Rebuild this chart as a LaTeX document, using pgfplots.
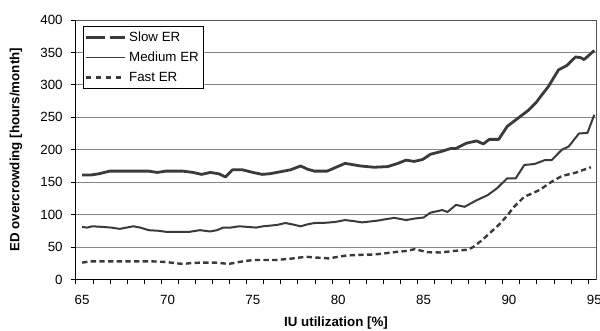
\documentclass[border=0pt]{standalone}
\usepackage{pgfplots}
\pgfplotsset{compat=1.18}
\usepackage{fontspec}
\setmainfont{Liberation Sans}
\definecolor{linecol}{HTML}{3A3A3A}
\definecolor{gridcol}{HTML}{858585}
\definecolor{framecol}{HTML}{555555}
\begin{document}
\begin{tikzpicture}[x=1pt,y=1pt]
\path[use as bounding box] (0,0) rectangle (450,247.5);
\begin{axis}[
  at={(57pt,37.9pt)}, anchor=south west, scale only axis,
  width=390pt, height=194.6pt,
  xmin=64.64, xmax=95.1, ymin=0, ymax=400,
  font=\fontsize{10}{12}\selectfont,
  /pgf/number format/assume math mode=true,
  xtick={64.64,65.64,...,94.7},
  xticklabels={},
  extra x ticks={65,70,75,80,85,90,95},
  extra x tick style={major tick length=0pt, xticklabel style={yshift=-8.5pt}},
  ytick={0,50,...,400},
  xtick pos=lower, ytick pos=left,
  tick align=outside,
  major tick length=3.5pt,
  tick style={black, line width=0.75pt},
  ymajorgrids,
  grid style={gridcol, line width=0.75pt},
  axis line style={framecol, line width=0.75pt},
  yticklabel style={xshift=-3pt},
  ylabel={\bfseries ED overcrowding [hours/month]},
  xlabel={\bfseries IU utilization [\%]},
  ylabel style={at={(axis description cs:-0.1154,0.5)}, anchor=center},
  xlabel style={at={(axis description cs:0.5,0)}, anchor=center, yshift=-32.6pt},
  legend style={at={(axis description cs:0,1)}, anchor=north west, xshift=5pt, yshift=-4.5pt,
    draw=black, line width=0.75pt, fill=white, inner sep=1pt,
    row sep=0.5pt,
    nodes={inner sep=2.5pt, text height=7.5pt, text depth=2pt, font=\fontsize{10}{12}\selectfont}},
  legend cell align=left,
  clip=false,
]
\addplot[linecol, line width=2.1pt, line join=round,
  legend image code/.code={\draw[linecol, line width=2pt, dash pattern=on 14pt off 4pt] (0pt,0pt) -- (29pt,0pt);}]
coordinates {
(65,161) (65.5,161) (66,163) (66.6,167) (67.5,167) (68.5,167) (68.9,167) (69.4,165) (69.9,167) (70.9,167) (71.5,165) (72.0,162) (72.5,165) (73.0,163) (73.4,158) (73.8,169) (74.4,169) (75.0,165) (75.55,162) (76.0,163) (76.6,166) (77.2,169) (77.8,175) (78.2,170) (78.6,167) (79.35,167) (80.4,179) (81.3,175) (82.1,173) (82.9,174) (83.5,179) (83.97,184) (84.45,182) (84.95,185) (85.4,193) (86.0,197) (86.6,202) (86.9,202) (87.5,210) (88.1,213.6) (88.5,209) (88.85,216) (89.4,216) (89.9,236) (90.3,244) (90.7,252) (91.1,260) (91.6,273) (92.0,287) (92.3,297) (92.6,310) (92.9,323) (93.4,330) (93.9,343) (94.2,342) (94.4,339) (94.7,346) (95.0,353)
};
\addlegendentry{Slow ER}
\addplot[linecol, line width=1.5pt, line join=round,
  legend image code/.code={\draw[linecol, line width=1.3pt] (0pt,0pt) -- (29pt,0pt);}]
coordinates {
(65,81) (65.3,80) (65.6,82) (66.2,81) (66.7,80) (67.2,78) (67.6,80) (68.0,82) (68.4,80) (68.9,76) (69.5,75) (69.9,73.5) (70.6,73.5) (71.3,73.5) (71.9,76) (72.5,74) (72.9,76) (73.25,80) (73.7,80) (74.2,82) (74.7,81) (75.2,80) (75.6,82) (76.4,84) (76.9,87) (77.3,85) (77.8,82) (78.2,85) (78.6,87) (79.35,87.5) (79.9,89) (80.4,91.6) (80.9,90) (81.4,88) (82.3,90.7) (82.8,93) (83.3,95) (83.97,91.6) (84.5,94) (85.0,95.5) (85.4,103) (86.1,107) (86.4,104) (86.9,115) (87.4,112) (88.1,122) (88.75,130) (89.3,140.5) (89.9,156) (90.4,156) (90.9,176.5) (91.5,178) (92.1,184) (92.5,184) (93.1,200) (93.5,205) (94.1,225) (94.6,226) (95.0,254)
};
\addlegendentry{Medium ER}
\addplot[linecol, line width=1.8pt, dash pattern=on 4pt off 2.5pt,
  legend image code/.code={\draw[linecol, line width=1.8pt, dash pattern=on 4pt off 3.5pt] (0pt,0pt) -- (29pt,0pt);}]
coordinates {
(65,26) (65.5,28) (66,28) (67,28) (68,28) (69,28) (69.9,27) (70.5,25) (70.9,24) (71.5,25.5) (72.0,26) (72.8,26) (73.6,24) (74.2,27) (75.0,30) (76.35,30) (77.2,32) (78.1,35) (78.6,34) (79.45,32.5) (80.0,35) (80.5,37) (81.3,38) (82.1,38.5) (82.8,40.5) (83.45,42.6) (84.0,44) (84.5,46.8) (85.2,42) (86.0,41.6) (86.8,44) (87.6,46) (87.9,50) (88.4,60) (88.9,72) (89.4,84) (89.85,97) (90.3,112) (90.9,127.6) (91.3,132) (91.8,138) (92.5,150.7) (93.1,159.5) (93.9,164.6) (94.8,173)
};
\addlegendentry{Fast ER}
\draw[black, line width=0.75pt] (rel axis cs:0,1) -- (rel axis cs:0,0) -- (rel axis cs:1,0);
\end{axis}
\end{tikzpicture}
\end{document}
